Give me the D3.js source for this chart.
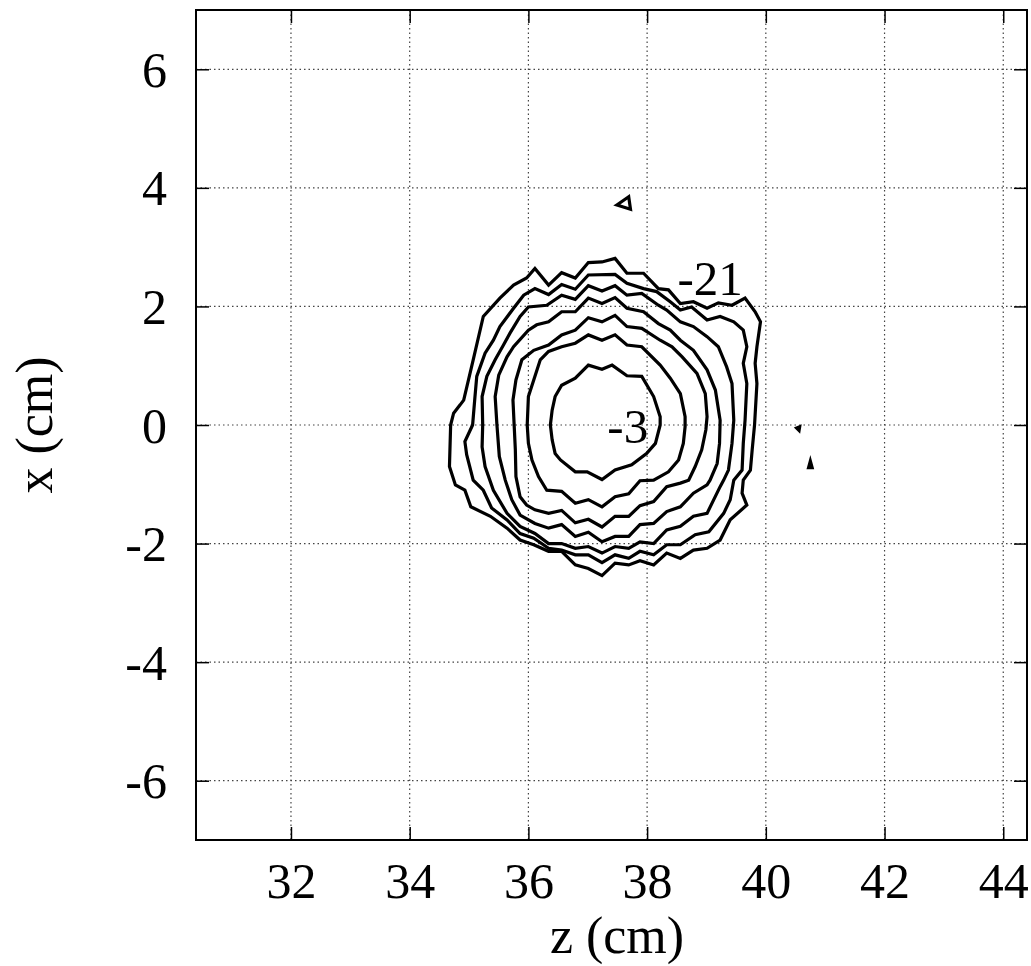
<!DOCTYPE html>
<html>
<head>
<meta charset="utf-8">
<script src="https://cdn.jsdelivr.net/npm/d3@7"></script>
<style>
  html, body { margin: 0; padding: 0; background: #fff; }
  svg text { font-family: "Liberation Serif", "Times New Roman", serif; fill: #000; }
</style>
</head>
<body>
<svg id="chart" width="1031" height="966"></svg>
<script>
// tick values
let zTicks = [32, 34, 36, 38, 40, 42, 44];
let xTicks = [-6, -4, -2, 0, 2, 4, 6];

// contour levels, inner to outer; each contour is a closed list of [z, x] points (cm)
let levels = [-3, -6, -9, -12, -15, -18, -21];

let c3 = [[36.37,0.00],[36.40,0.25],[36.45,0.48],[36.56,0.67],[36.79,0.79],[37.01,1.01],[37.24,0.94],[37.41,1.01],[37.66,0.83],[37.91,0.82],[38.11,0.48],[38.22,0.14],[38.22,0.00],[38.14,-0.31],[37.99,-0.48],[37.74,-0.67],[37.46,-0.76],[37.24,-0.92],[36.99,-0.79],[36.79,-0.79],[36.54,-0.59],[36.45,-0.48],[36.40,-0.25]];
let c6 = [[35.98,0.00],[36.00,0.48],[36.09,0.76],[36.20,1.10],[36.34,1.24],[36.56,1.32],[36.79,1.38],[37.01,1.52],[37.24,1.43],[37.46,1.52],[37.66,1.35],[37.91,1.32],[38.22,1.01],[38.39,0.79],[38.56,0.53],[38.64,0.14],[38.64,-0.03],[38.61,-0.31],[38.53,-0.59],[38.36,-0.79],[38.11,-0.93],[37.88,-0.94],[37.69,-1.16],[37.46,-1.21],[37.24,-1.38],[37.01,-1.26],[36.79,-1.32],[36.56,-1.12],[36.31,-1.10],[36.17,-0.87],[36.06,-0.59],[36.00,-0.31]];
let c9 = [[35.76,0.00],[35.74,0.42],[35.79,0.76],[35.89,1.10],[36.09,1.26],[36.34,1.35],[36.56,1.52],[36.79,1.60],[37.01,1.81],[37.24,1.74],[37.46,1.85],[37.66,1.66],[37.91,1.63],[38.22,1.43],[38.42,1.32],[38.59,1.15],[38.84,0.87],[38.98,0.53],[39.01,0.14],[38.99,-0.08],[38.92,-0.42],[38.81,-0.70],[38.70,-0.93],[38.56,-0.98],[38.33,-1.04],[38.11,-1.29],[37.88,-1.36],[37.69,-1.54],[37.46,-1.54],[37.24,-1.72],[37.01,-1.59],[36.79,-1.65],[36.56,-1.44],[36.34,-1.49],[36.11,-1.43],[35.97,-1.35],[35.86,-1.21],[35.79,-0.87],[35.78,-0.42]];
let c12 = [[35.47,0.00],[35.44,0.48],[35.50,0.84],[35.64,1.15],[35.75,1.32],[36.00,1.60],[36.14,1.69],[36.34,1.74],[36.56,1.91],[36.79,1.91],[37.01,2.14],[37.24,2.05],[37.46,2.15],[37.66,1.97],[37.94,1.91],[38.19,1.71],[38.39,1.60],[38.56,1.43],[38.78,1.26],[39.01,0.93],[39.15,0.59],[39.23,0.08],[39.22,-0.31],[39.18,-0.65],[39.06,-0.93],[39.01,-1.01],[38.78,-1.15],[38.56,-1.38],[38.33,-1.46],[38.11,-1.66],[37.88,-1.68],[37.69,-1.88],[37.46,-1.88],[37.24,-1.97],[37.01,-1.81],[36.79,-1.88],[36.56,-1.68],[36.34,-1.74],[36.11,-1.66],[35.86,-1.52],[35.72,-1.26],[35.61,-0.93],[35.51,-0.53]];
let c15 = [[35.23,0.00],[35.22,0.48],[35.30,0.82],[35.44,1.10],[35.58,1.35],[35.69,1.55],[35.86,1.83],[36.00,1.99],[36.31,2.02],[36.56,2.19],[36.79,2.12],[37.01,2.35],[37.24,2.26],[37.46,2.35],[37.66,2.19],[37.91,2.22],[38.19,2.02],[38.33,1.94],[38.56,1.74],[38.78,1.66],[39.01,1.49],[39.20,1.32],[39.34,0.98],[39.43,0.70],[39.46,0.08],[39.43,-0.31],[39.37,-0.76],[39.29,-0.93],[39.23,-1.04],[39.01,-1.49],[38.78,-1.54],[38.56,-1.71],[38.33,-1.77],[38.11,-2.00],[37.88,-1.97],[37.69,-2.08],[37.46,-2.05],[37.24,-2.16],[37.01,-2.05],[36.79,-2.08],[36.56,-2.00],[36.34,-2.00],[36.11,-1.83],[35.86,-1.71],[35.64,-1.49],[35.41,-1.10],[35.27,-0.70],[35.22,-0.37]];
let c18 = [[35.06,0.00],[35.10,0.48],[35.13,0.82],[35.27,1.21],[35.41,1.43],[35.52,1.66],[35.75,1.97],[35.92,2.19],[36.11,2.30],[36.34,2.20],[36.56,2.37],[36.79,2.29],[37.01,2.53],[37.46,2.54],[37.66,2.39],[37.94,2.30],[38.16,2.25],[38.39,2.08],[38.56,1.94],[38.75,1.99],[39.01,1.77],[39.23,1.83],[39.46,1.74],[39.62,1.60],[39.68,1.32],[39.62,1.04],[39.68,0.70],[39.65,0.08],[39.62,-0.31],[39.60,-0.76],[39.46,-0.93],[39.40,-1.26],[39.29,-1.49],[39.04,-1.80],[38.81,-1.85],[38.56,-2.02],[38.33,-2.02],[38.11,-2.19],[37.88,-2.13],[37.69,-2.25],[37.46,-2.19],[37.24,-2.32],[37.01,-2.19],[36.79,-2.19],[36.56,-2.11],[36.34,-2.08],[36.09,-1.91],[35.86,-1.83],[35.64,-1.60],[35.38,-1.40],[35.24,-1.10],[35.07,-0.93],[34.96,-0.50],[34.93,-0.28]];
let c21 = [[34.69,0.00],[34.74,0.20],[34.85,0.34],[34.91,0.42],[35.07,1.10],[35.24,1.83],[35.52,2.14],[35.75,2.36],[35.97,2.48],[36.11,2.64],[36.34,2.36],[36.56,2.57],[36.79,2.48],[37.01,2.74],[37.24,2.75],[37.46,2.81],[37.66,2.56],[37.94,2.56],[38.19,2.30],[38.36,2.28],[38.56,2.05],[38.78,2.08],[39.01,1.97],[39.20,2.06],[39.43,2.02],[39.65,2.14],[39.82,1.91],[39.91,1.74],[39.85,1.32],[39.82,1.04],[39.85,0.70],[39.81,0.00],[39.77,-0.42],[39.74,-0.76],[39.62,-0.93],[39.60,-1.15],[39.68,-1.35],[39.40,-1.60],[39.23,-1.94],[39.01,-2.08],[38.78,-2.11],[38.56,-2.25],[38.33,-2.16],[38.11,-2.36],[37.88,-2.29],[37.69,-2.36],[37.46,-2.33],[37.24,-2.54],[37.01,-2.42],[36.79,-2.36],[36.56,-2.13],[36.34,-2.13],[36.09,-2.02],[35.86,-1.94],[35.64,-1.74],[35.36,-1.54],[35.03,-1.38],[34.93,-1.10],[34.77,-1.01],[34.67,-0.70]];

// small isolated islands
let islandA = [[37.49,3.71],[37.69,3.85],[37.72,3.64]];
let islandB = [[40.52,-0.05],[40.57,-0.03],[40.56,-0.09]];
let islandC = [[40.72,-0.72],[40.75,-0.61],[40.78,-0.72]];

let contours = [c3, c6, c9, c12, c15, c18, c21, islandA, islandB, islandC];

// level labels: text, z, x (start of text, baseline)
let labelText = ["-21", "-3"];
let labelZ = [38.51, 37.33];
let labelX = [2.19, -0.30];

let svg = d3.select("#chart");
let margin = { left: 196, top: 10, right: 4, bottom: 126 };
let width = 1031 - margin.left - margin.right,
    height = 966 - margin.top - margin.bottom;

let xScale = d3.scaleLinear().domain([30.4, 44.4]).range([0, width]);
let yScale = d3.scaleLinear().domain([-7, 7]).range([height, 0]);

let g = svg.append("g").attr("transform", "translate(" + margin.left + "," + margin.top + ")");

// dotted grid
g.append("g")
    .selectAll("line")
    .data(zTicks)
    .join("line")
    .attr("x1", (d) => xScale(d))
    .attr("x2", (d) => xScale(d))
    .attr("y1", 0)
    .attr("y2", height)
    .attr("stroke", "#444")
    .attr("stroke-width", 1.2)
    .attr("stroke-dasharray", "1.5,3");

g.append("g")
    .selectAll("line")
    .data(xTicks)
    .join("line")
    .attr("x1", 0)
    .attr("x2", width)
    .attr("y1", (d) => yScale(d))
    .attr("y2", (d) => yScale(d))
    .attr("stroke", "#444")
    .attr("stroke-width", 1.2)
    .attr("stroke-dasharray", "1.5,3");

// axes with inward ticks on all four sides
let axBottom = g.append("g")
    .attr("transform", "translate(0," + height + ")")
    .call(d3.axisBottom(xScale).tickValues(zTicks).tickSize(-13).tickFormat(d3.format("d")));
let axTop = g.append("g")
    .call(d3.axisTop(xScale).tickValues(zTicks).tickSize(-13).tickFormat(""));
let axLeft = g.append("g")
    .call(d3.axisLeft(yScale).tickValues(xTicks).tickSize(-13).tickFormat((d) => String(d)));
let axRight = g.append("g")
    .attr("transform", "translate(" + width + ",0)")
    .call(d3.axisRight(yScale).tickValues(xTicks).tickSize(-13).tickFormat(""));

g.selectAll(".domain").attr("stroke", "none");
g.selectAll(".tick line").attr("stroke", "#000").attr("stroke-width", 1.5);
g.selectAll(".tick text")
    .attr("fill", "#000")
    .style("font-family", "'Liberation Serif', serif")
    .style("font-size", "50px");
axBottom.selectAll(".tick text").attr("dy", "0.71em").attr("y", 22);
axLeft.selectAll(".tick text").attr("dy", "0.34em").attr("x", -29);

// frame
g.append("rect")
    .attr("width", width)
    .attr("height", height)
    .attr("fill", "none")
    .attr("stroke", "#000")
    .attr("stroke-width", 2);

// contour lines
let lnMkr = d3
    .line()
    .curve(d3.curveLinearClosed)
    .x((d) => xScale(d[0]))
    .y((d) => yScale(d[1]));

g.selectAll(".contour")
    .data(contours)
    .join("path")
    .attr("class", "contour")
    .attr("d", (d) => lnMkr(d))
    .attr("fill", "none")
    .attr("stroke", "#000")
    .attr("stroke-width", 3.2)
    .attr("stroke-linejoin", "miter");

// level labels
g.selectAll(".lvl")
    .data(labelText)
    .join("text")
    .attr("class", "lvl")
    .attr("x", (d, i) => xScale(labelZ[i]))
    .attr("y", (d, i) => yScale(labelX[i]))
    .attr("font-size", "49px")
    .text((d) => d);

// axis titles
svg.append("text")
    .attr("x", 617)
    .attr("y", 953)
    .attr("text-anchor", "middle")
    .attr("font-size", "52px")
    .text("z (cm)");

svg.append("text")
    .attr("transform", "translate(52,425) rotate(-90)")
    .attr("text-anchor", "middle")
    .attr("font-size", "52px")
    .text("x (cm)");
</script>
</body>
</html>
